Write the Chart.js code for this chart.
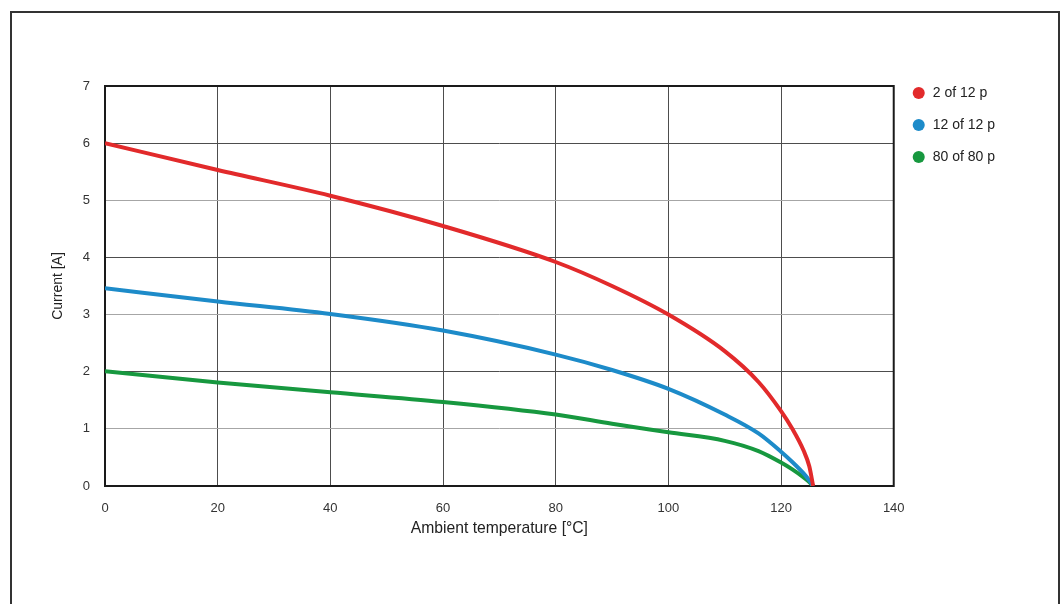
<!DOCTYPE html>
<html>
<head>
<meta charset="utf-8">
<script src="https://cdn.jsdelivr.net/npm/chart.js@4/dist/chart.umd.min.js"></script>
<style>
  html, body { margin: 0; padding: 0; background: #fff; }
  #wrap { position: relative; width: 1064px; height: 604px; overflow: hidden; }
  #frame { position: absolute; left: 10px; top: 11px; width: 1046px; height: 640px; border: 2px solid #333; }
  canvas { position: absolute; left: 0; top: 0; }
</style>
</head>
<body>
<div id="wrap">
  <div id="frame"></div>
  <canvas id="derating" width="1064" height="604"></canvas>
</div>
<script>
// ambient temperature points [°C]
const temps = [0, 20, 40, 60, 80, 90, 100, 110, 116, 120, 122, 124, 125, 125.7];
// current [A] per contact configuration
const red2of12 = [6.0, 5.53, 5.08, 4.55, 3.92, 3.5, 3.0, 2.36, 1.82, 1.31, 1.0, 0.62, 0.35, 0];
const blue12of12 = [3.46, 3.23, 3.01, 2.72, 2.3, 2.03, 1.7, 1.25, 0.92, 0.6, 0.42, 0.22, 0.1, 0];
const green80of80 = [2.01, 1.81, 1.64, 1.47, 1.25, 1.09, 0.94, 0.79, 0.61, 0.41, 0.29, 0.15, 0.07, 0];

const seriesNames = ['2 of 12 p', '12 of 12 p', '80 of 80 p'];
const seriesColors = ['#e22a2b', '#1d8bc9', '#17983f'];
const xTicks = [0, 20, 40, 60, 80, 100, 120, 140];
const yTicks = [0, 1, 2, 3, 4, 5, 6, 7];

const FONT = "'Liberation Sans', Arial, sans-serif";

const toPoints = (vals) => temps.map((t, i) => ({ x: t, y: vals[i] }));

const datasets = [red2of12, blue12of12, green80of80].map((vals, i) => ({
  label: seriesNames[i],
  data: toPoints(vals),
  borderColor: seriesColors[i],
  backgroundColor: seriesColors[i],
  borderWidth: 4,
  pointRadius: 0,
  pointStyle: 'circle',
  cubicInterpolationMode: 'monotone',
  fill: false
}));

// black frame round the plot area
const plotBox = {
  id: 'plotBox',
  beforeDatasetsDraw(chart) {
    const { ctx, chartArea: a } = chart;
    ctx.save();
    ctx.strokeStyle = '#1a1a1a';
    ctx.lineWidth = 2;
    ctx.strokeRect(a.left, a.top, a.right - a.left, a.bottom - a.top);
    ctx.restore();
  }
};

new Chart(document.getElementById('derating').getContext('2d'), {
  type: 'line',
  data: { datasets },
  plugins: [plotBox],
  options: {
    responsive: false,
    animation: false,
    layout: { padding: { left: 50, right: 59, top: 68, bottom: 66 } },
    plugins: {
      title: { display: true, text: '', font: { size: 10 }, padding: { top: 0, bottom: 6 } },
      tooltip: { enabled: false },
      legend: {
        position: 'right',
        align: 'start',
        labels: {
          usePointStyle: true,
          boxWidth: 14,
          boxHeight: 8.5,
          padding: 18,
          color: '#222',
          font: { family: FONT, size: 14 },
          generateLabels: (chart) =>
            Chart.defaults.plugins.legend.labels.generateLabels(chart)
              .map(item => Object.assign(item, { lineWidth: 0 }))
        }
      }
    },
    scales: {
      x: {
        type: 'linear',
        min: 0,
        max: 140,
        afterBuildTicks: (s) => { s.ticks = xTicks.map(v => ({ value: v })); },
        afterFit: (s) => { s.height = 52; },
        grid: { color: '#4d4d4d', lineWidth: 1, drawTicks: false },
        border: { display: false },
        ticks: { padding: 15, color: '#333', font: { family: FONT, size: 13 } },
        title: { display: true, text: 'Ambient temperature [°C]', color: '#222',
                 font: { family: FONT, size: 15.7 }, padding: { top: 3, bottom: 0 } }
      },
      y: {
        min: 0,
        max: 7,
        afterBuildTicks: (s) => { s.ticks = yTicks.map(v => ({ value: v })); },
        afterFit: (s) => { s.width = 55; },
        grid: {
          color: (c) => (c.tick && c.tick.value % 2 === 1) ? '#a6a6a6' : '#4d4d4d',
          lineWidth: 1,
          drawTicks: false
        },
        border: { display: false },
        ticks: { padding: 15, color: '#333', font: { family: FONT, size: 13 } },
        title: { display: true, text: 'Current [A]', color: '#222',
                 font: { family: FONT, size: 14 }, padding: { top: 0, bottom: 16 } }
      }
    }
  }
});
</script>
</body>
</html>
